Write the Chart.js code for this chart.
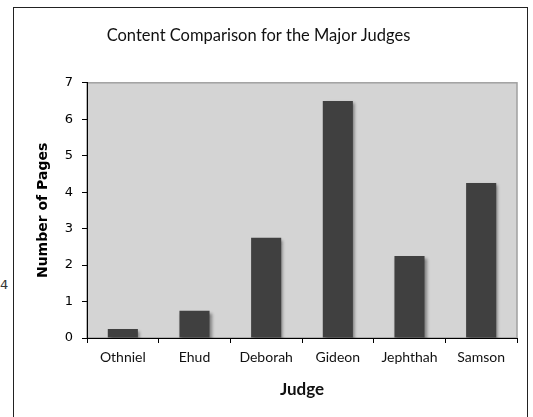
<!DOCTYPE html>
<html>
<head>
<meta charset="utf-8">
<script src="https://cdn.jsdelivr.net/npm/chart.js@4/dist/chart.umd.min.js"></script>
<style>
  html, body { margin: 0; padding: 0; background: #fff; }
  #wrap { position: relative; width: 533px; height: 417px; overflow: hidden; }
  #frame { position: absolute; left: 13px; top: 7px; width: 515px; height: 430px;
           border: 1px solid #222; box-sizing: border-box; }
  #stray { position: absolute; left: 0px; top: 277px; font: 13px "DejaVu Sans", sans-serif; color: #333; }
  canvas { position: absolute; left: 0; top: 0; }
</style>
</head>
<body>
<div id="wrap">
  <div id="frame"></div>
  <div id="stray">4</div>
  <canvas id="chart" width="533" height="417"></canvas>
</div>
<script>
const judges = ['Othniel', 'Ehud', 'Deborah', 'Gideon', 'Jephthah', 'Samson'];
const pages = [0.25, 0.75, 2.75, 6.5, 2.25, 4.25];
const yTicks = [0, 1, 2, 3, 4, 5, 6, 7];

// fond gris + bordure du plot area (style Excel)
const plotBg = {
    id: 'plotBg',
    beforeDraw(chart) {
        const { ctx, chartArea: a } = chart;
        ctx.save();
        ctx.fillStyle = '#d4d4d4';
        ctx.fillRect(a.left, a.top, a.right - a.left, a.bottom - a.top);
        ctx.strokeStyle = '#a0a0a0';
        ctx.lineWidth = 1.5;
        ctx.strokeRect(a.left, a.top, a.right - a.left, a.bottom - a.top);
        ctx.restore();
    }
};

// ombre portée des barres
const barShadow = {
    id: 'barShadow',
    beforeDatasetsDraw(chart) {
        const ctx = chart.ctx;
        ctx.save();
        ctx.shadowColor = 'rgba(0,0,0,0.4)';
        ctx.shadowOffsetX = 2;
        ctx.shadowOffsetY = 2;
        ctx.shadowBlur = 3;
    },
    afterDatasetsDraw(chart) {
        chart.ctx.restore();
    }
};

new Chart(document.getElementById('chart'), {
    type: 'bar',
    data: {
        labels: judges,
        datasets: [{
            data: pages,
            backgroundColor: '#404040',
            borderWidth: 0,
            barPercentage: 0.42,
            categoryPercentage: 1
        }]
    },
    options: {
        responsive: false,
        animation: false,
        layout: { padding: { left: 0, right: 16, top: 0, bottom: 0 } },
        plugins: {
            legend: { display: false },
            tooltip: { enabled: false },
            title: {
                display: true,
                text: 'Content Comparison for the Major Judges',
                color: '#111',
                font: { family: 'Lato', size: 16.5, weight: 'normal' },
                padding: { top: 26, bottom: 37 }
            }
        },
        scales: {
            x: {
                grid: { display: true, drawOnChartArea: false, color: '#000', tickLength: 5, offset: true },
                border: { color: '#000', width: 1 },
                ticks: { color: '#111', padding: 6, font: { family: 'Lato', size: 14 } },
                title: {
                    display: true, text: 'Judge', color: '#111',
                    font: { family: 'Lato', size: 17, weight: 'bold' },
                    padding: { top: 0, bottom: 17 }
                },
                afterFit(scale) { scale.height = 79; }
            },
            y: {
                min: 0,
                max: 7,
                afterBuildTicks(scale) { scale.ticks = yTicks.map(v => ({ value: v })); },
                grid: { display: true, drawOnChartArea: false, color: '#000', tickLength: 5 },
                border: { color: '#000', width: 1 },
                ticks: { color: '#000', padding: 9, font: { family: 'DejaVu Sans', size: 13 } },
                title: {
                    display: true, text: 'Number of Pages', color: '#000',
                    font: { family: 'DejaVu Sans', size: 14, weight: 'bold' },
                    padding: { top: 35, bottom: 0 }
                },
                afterFit(scale) { scale.width = 87; }
            }
        }
    },
    plugins: [plotBg, barShadow]
});
</script>
</body>
</html>
